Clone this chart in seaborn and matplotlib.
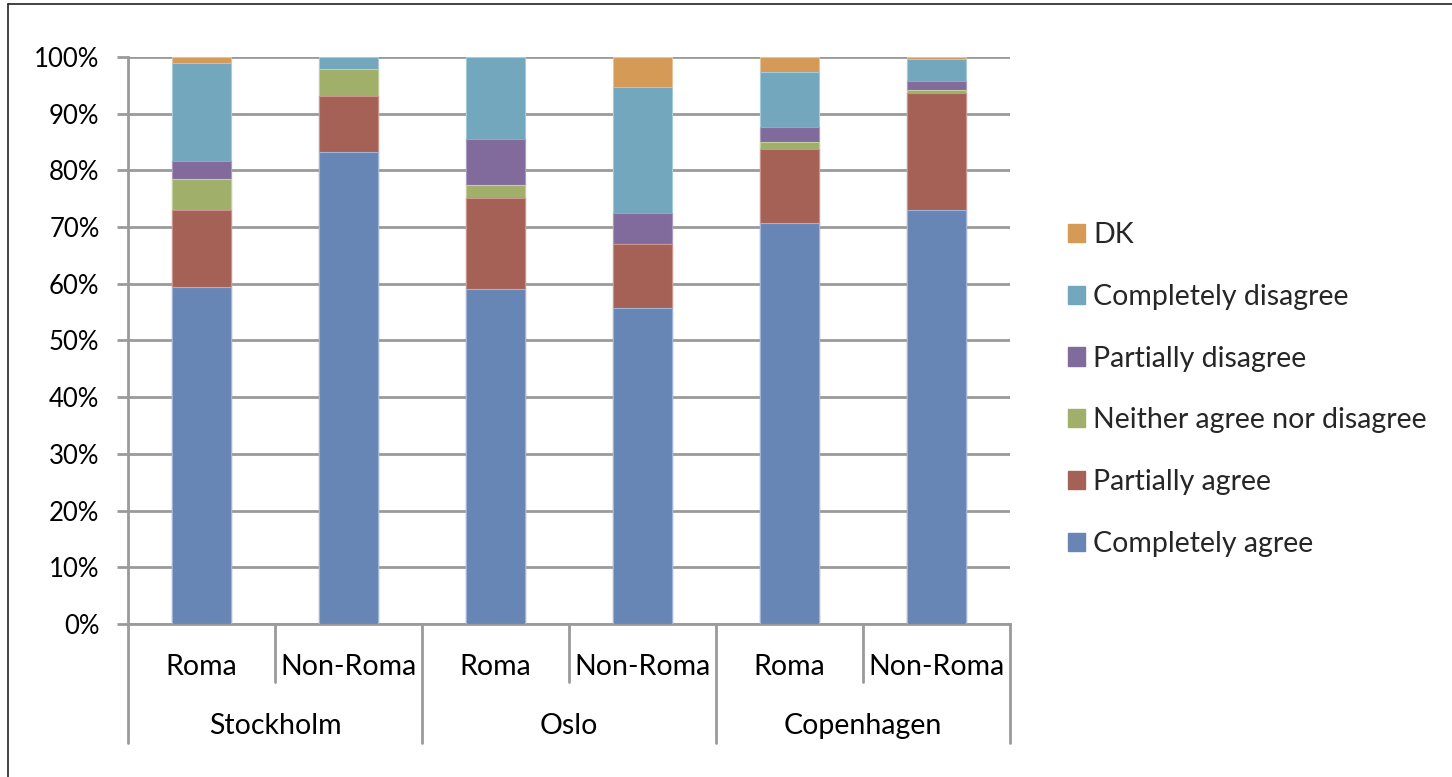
import numpy as np
import pandas as pd
import matplotlib
matplotlib.use("Agg")
import matplotlib.pyplot as plt
import seaborn as sns
from matplotlib.patches import Patch
from matplotlib.lines import Line2D
from matplotlib.ticker import PercentFormatter

# ---- data ----
cities = ["Stockholm", "Stockholm", "Oslo", "Oslo", "Copenhagen", "Copenhagen"]
groups = ["Roma", "Non-Roma", "Roma", "Non-Roma", "Roma", "Non-Roma"]
completely_agree = [59.5, 83.3, 59.0, 55.7, 70.8, 73.0]
partially_agree = [13.5, 9.8, 16.2, 11.4, 13.0, 20.6]
neither = [5.4, 4.8, 2.2, 0.0, 1.2, 0.6]
partially_disagree = [3.3, 0.0, 8.1, 5.3, 2.6, 1.5]
completely_disagree = [17.3, 2.1, 14.5, 22.3, 9.8, 3.9]
dk = [1.0, 0.0, 0.0, 5.3, 2.6, 0.4]

series_names = ["Completely agree", "Partially agree", "Neither agree nor disagree",
                "Partially disagree", "Completely disagree", "DK"]
series_vals = [completely_agree, partially_agree, neither,
               partially_disagree, completely_disagree, dk]
colors = ["#6785b5", "#a66156", "#a0b06a", "#806b9c", "#72a7bd", "#d49a56"]
edge_colors = ["#9fb4d6", "#c9958c", "#c3cf9c", "#aa9cc0", "#a5cad9", "#e8c39a"]

cats = [f"{c}|{g}" for c, g in zip(cities, groups)]
df = pd.DataFrame({"cat": cats})
cum = np.zeros(len(cats))
cum_cols = []
for name, vals in zip(series_names, series_vals):
    cum = cum + np.array(vals) / 100.0
    df[name] = cum.copy()
    cum_cols.append(name)

# ---- figure ----
FONT = ["Lato", "DejaVu Sans"]
FS = 20.5
sns.set_theme(style="white")
plt.rcParams["font.family"] = FONT

fig = plt.figure(figsize=(14.52, 7.77), dpi=100)
ax = fig.add_axes([128 / 1452, 1 - 624 / 777, (1010 - 128) / 1452, (624 - 57) / 777])

# draw cumulative stacks from top to bottom
for name, col, ec in reversed(list(zip(cum_cols, colors, edge_colors))):
    sns.barplot(data=df, x="cat", y=name, order=cats, color=col, width=0.40,
                saturation=1, edgecolor=ec, linewidth=0.8, ax=ax, zorder=3)

ax.set_ylim(0, 1)
ax.set_xlim(-0.5, len(cats) - 0.5)
ax.yaxis.set_major_locator(matplotlib.ticker.MultipleLocator(0.1))
ax.yaxis.set_major_formatter(PercentFormatter(1.0, decimals=0))
ax.grid(axis="y", color="#9a9a9a", linewidth=2.0, zorder=0)
ax.set_axisbelow(True)
ax.set_xlabel("")
ax.set_ylabel("")

for s in ["top", "right"]:
    ax.spines[s].set_visible(False)
for s in ["left", "bottom"]:
    ax.spines[s].set_color("#9a9a9a")
    ax.spines[s].set_linewidth(2.0)

ax.tick_params(axis="y", direction="out", length=8, width=2.0, color="#9a9a9a",
               pad=12.5, labelsize=18.5, labelcolor="#000000", left=True)
ax.set_xticks(range(len(cats)))
ax.set_xticklabels([])
ax.tick_params(axis="x", length=0, bottom=False)

trans = ax.get_xaxis_transform()
# sub-category labels
for i, g in enumerate(groups):
    ax.text(i, -0.076, g, transform=trans, ha="center", va="center",
            fontsize=FS, color="#000000")
# group labels and separators
city_order = ["Stockholm", "Oslo", "Copenhagen"]
for j, c in enumerate(city_order):
    idx = [i for i, cc in enumerate(cities) if cc == c]
    center = np.mean(idx)
    ax.text(center, -0.18, c, transform=trans, ha="center", va="center",
            fontsize=FS, color="#000000")
    ax.add_line(Line2D([center, center], [0, -0.102], transform=trans,
                       color="#9a9a9a", linewidth=2.0, clip_on=False))
for b in [-0.5, 1.5, 3.5, 5.5]:
    ax.add_line(Line2D([b, b], [0, -0.21], transform=trans,
                       color="#9a9a9a", linewidth=2.0, clip_on=False))

# legend
handles = [Patch(facecolor=c, edgecolor=c) for c in colors]
leg = fig.legend(handles[::-1], series_names[::-1], loc="center left",
                 bbox_to_anchor=(1042 / 1452, 1 - 389.5 / 777), frameon=False,
                 fontsize=FS, handlelength=0.6, handleheight=0.6,
                 handletextpad=0.3, labelspacing=1.26)

# frame lines of the picture (left and top)
fig.add_artist(Line2D([8 / 1452, 8 / 1452], [0, 1 - 4 / 777], transform=fig.transFigure,
                      color="#222222", linewidth=1.2))
fig.add_artist(Line2D([8 / 1452, 1], [1 - 4 / 777, 1 - 4 / 777], transform=fig.transFigure,
                      color="#222222", linewidth=1.2))

fig.savefig("out.png", dpi=100, facecolor="white")
